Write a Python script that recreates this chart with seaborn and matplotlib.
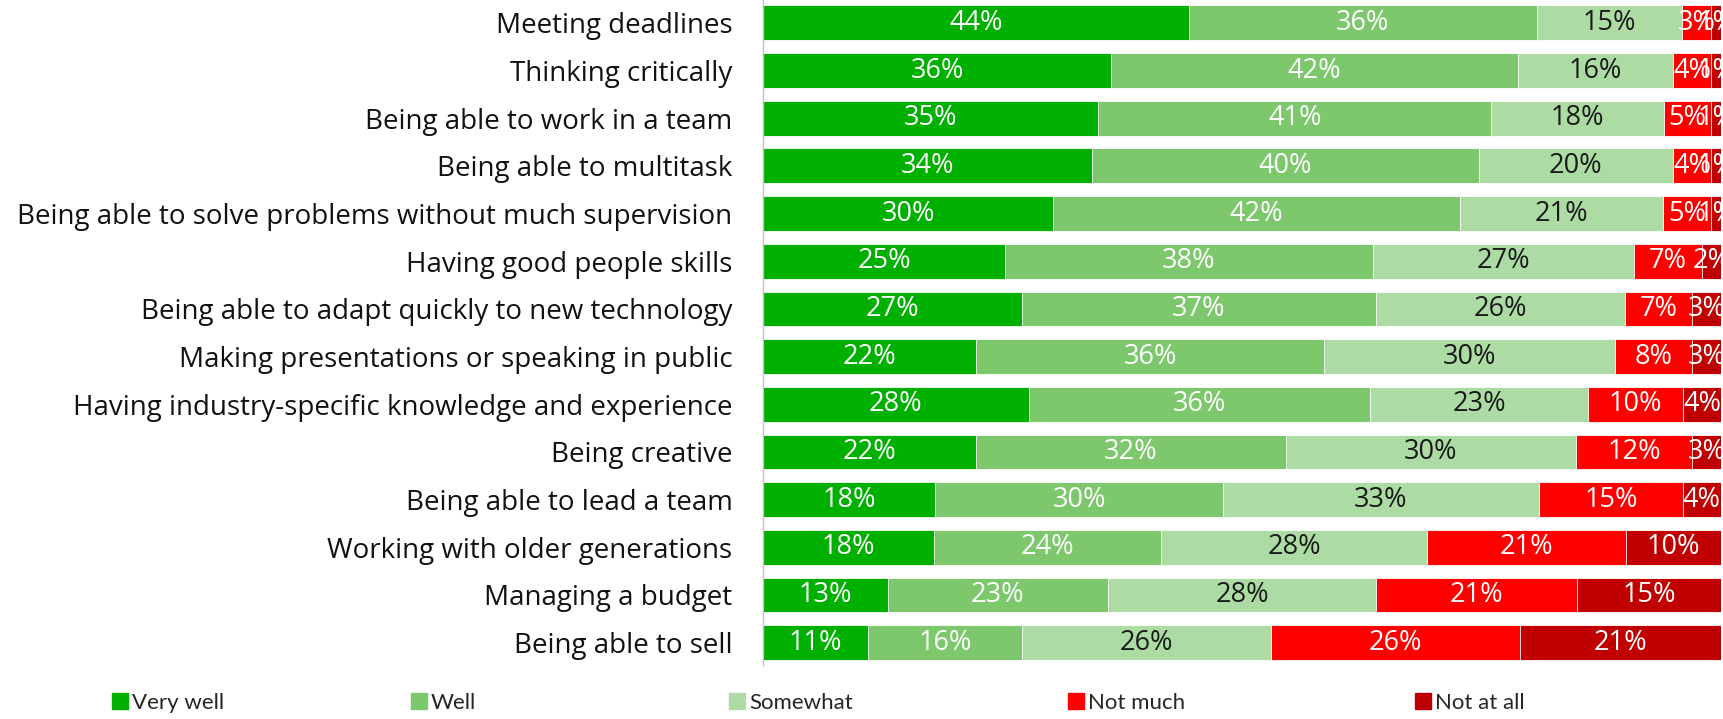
import numpy as np
import pandas as pd
import seaborn as sns
import matplotlib.pyplot as plt
from matplotlib.patches import Patch

categories = [
    "Meeting deadlines",
    "Thinking critically",
    "Being able to work in a team",
    "Being able to multitask",
    "Being able to solve problems without much supervision",
    "Having good people skills",
    "Being able to adapt quickly to new technology",
    "Making presentations or speaking in public",
    "Having industry-specific knowledge and experience",
    "Being creative",
    "Being able to lead a team",
    "Working with older generations",
    "Managing a budget",
    "Being able to sell",
]
series_names = ["Very well", "Well", "Somewhat", "Not much", "Not at all"]
very_well = [44, 36, 35, 34, 30, 25, 27, 22, 28, 22, 18, 18, 13, 11]
well = [36, 42, 41, 40, 42, 38, 37, 36, 36, 32, 30, 24, 23, 16]
somewhat = [15, 16, 18, 20, 21, 27, 26, 30, 23, 30, 33, 28, 28, 26]
not_much = [3, 4, 5, 4, 5, 7, 7, 8, 10, 12, 15, 21, 21, 26]
not_at_all = [1, 1, 1, 1, 1, 2, 3, 3, 4, 3, 4, 10, 15, 21]

colors = ["#00B000", "#7DC86C", "#ACDCA3", "#FF0000", "#C00000"]
label_colors = ["white", "white", "#1a1a1a", "white", "white"]

sns.set_theme(style="white")
plt.rcParams["font.family"] = ["Open Sans", "DejaVu Sans"]

vals = np.array([very_well, well, somewhat, not_much, not_at_all], dtype=float).T
shares = vals / vals.sum(axis=1, keepdims=True) * 100
cum = np.cumsum(shares, axis=1)

fig = plt.figure(figsize=(17.23, 7.19), dpi=100)
ax = fig.add_axes([763 / 1723, 54 / 719, (1721 - 763) / 1723, 665 / 719])

for i in range(4, -1, -1):
    df = pd.DataFrame({"cat": categories, "val": cum[:, i]})
    sns.barplot(data=df, x="val", y="cat", orient="h", color=colors[i],
                width=0.73, saturation=1, edgecolor="white", linewidth=0.6, ax=ax)

for r in range(len(categories)):
    for i in range(5):
        left = cum[r, i] - shares[r, i]
        ax.text(left + shares[r, i] / 2, r, f"{int(vals[r, i])}%",
                ha="center", va="center", fontsize=19.5, color=label_colors[i])

ax.set_xlim(0, 100)
ax.set_ylim(13.47, -0.48)
ax.set_xlabel("")
ax.set_ylabel("")
ax.set_xticks([])
ax.tick_params(axis="y", labelsize=20, labelcolor="#111111", pad=22, length=0)
for s in ["top", "right", "bottom"]:
    ax.spines[s].set_visible(False)
ax.spines["left"].set_color("#C0C0C0")
ax.spines["left"].set_linewidth(1)

legend_x = [112, 411, 729, 1068, 1415]
for name, col, x in zip(series_names, colors, legend_x):
    fig.legend(handles=[Patch(facecolor=col, edgecolor=col)], labels=[name],
               loc="center left", bbox_to_anchor=(x / 1723, 1 - 703 / 719),
               frameon=False, handlelength=0.7, handleheight=0.7,
               handletextpad=0.2, borderpad=0, borderaxespad=0,
               prop={"family": ["Lato", "DejaVu Sans"], "size": 16})

fig.savefig("out.png", dpi=100)
